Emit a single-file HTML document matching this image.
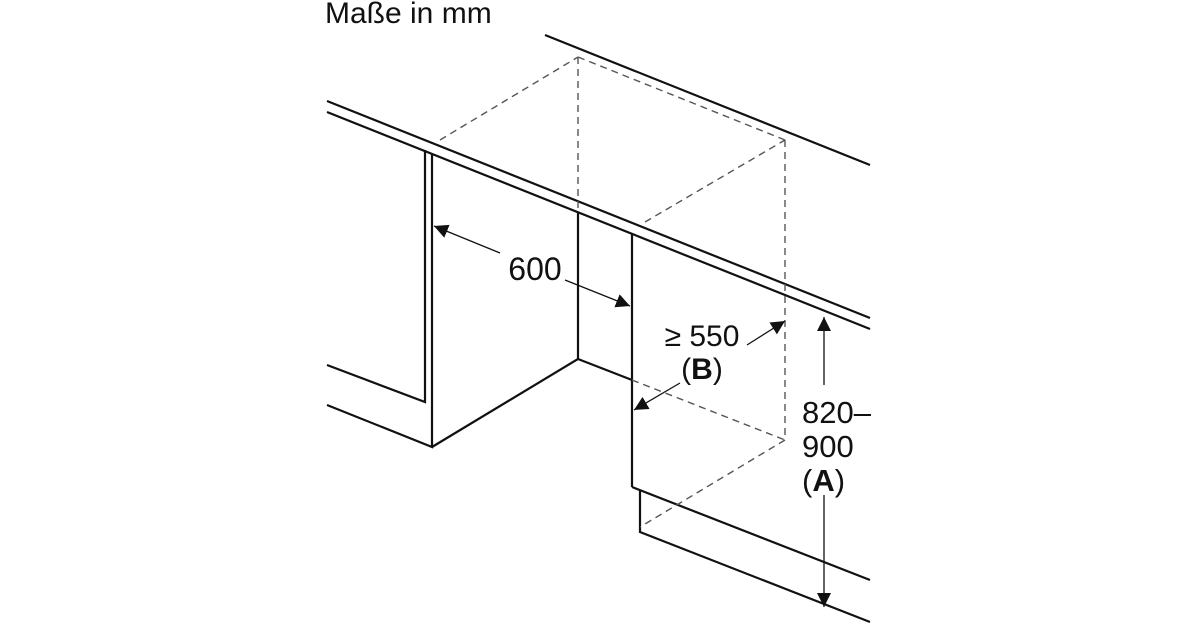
<!DOCTYPE html>
<html><head><meta charset="utf-8"><style>
html,body{margin:0;padding:0;background:#fff;}
svg{display:block;}
text{font-family:"Liberation Sans",sans-serif;fill:#111;}
</style></head><body>
<svg width="1200" height="630" viewBox="0 0 1200 630" xmlns="http://www.w3.org/2000/svg">
<defs>
<marker id="ah" viewBox="0 0 10 10" refX="10" refY="5" markerWidth="14" markerHeight="14" markerUnits="userSpaceOnUse" orient="auto">
<path d="M0,0 L10,5 L0,10 z" fill="#111"/>
</marker>
</defs>
<text x="325" y="23" font-size="30">Maße in mm</text>
<g stroke="#111" stroke-width="2.2" fill="none" stroke-linejoin="miter">
<line x1="545" y1="35" x2="870" y2="165"/>
<line x1="327" y1="101" x2="870" y2="318"/>
<line x1="327" y1="112" x2="870" y2="329"/>
<polyline points="327,365 425,402 425,150"/>
<polyline points="327,405 432,447 432,154"/>
<polyline points="432,447 578,359 578,213"/>
<polyline points="578,359 632,380"/>
<line x1="632" y1="233" x2="632" y2="487"/>
<line x1="632" y1="487" x2="870" y2="580"/>
<polyline points="640,490 640,532 870,622"/>
</g>
<g stroke="#555" stroke-width="1.4" fill="none" stroke-dasharray="7,5">
<line x1="440" y1="140" x2="578" y2="57"/>
<line x1="578" y1="57" x2="578" y2="213"/>
<line x1="578" y1="57" x2="785" y2="140"/>
<line x1="785" y1="140" x2="785" y2="440"/>
<line x1="645" y1="222" x2="785" y2="140"/>
<line x1="632" y1="380" x2="785" y2="440"/>
<line x1="785" y1="440" x2="640" y2="527"/>
</g>
<g stroke="#111" stroke-width="1.3" fill="none">
<line x1="500" y1="253" x2="434" y2="226" marker-end="url(#ah)"/>
<line x1="565" y1="280" x2="630" y2="306" marker-end="url(#ah)"/>
<line x1="747" y1="345" x2="785" y2="321" marker-end="url(#ah)"/>
<line x1="680" y1="383" x2="634" y2="410" marker-end="url(#ah)"/>
<line x1="824" y1="385" x2="824" y2="317" marker-end="url(#ah)"/>
<line x1="824" y1="495" x2="824" y2="607" marker-end="url(#ah)"/>
</g>
<text x="535" y="280" font-size="32" text-anchor="middle">600</text>
<text x="702" y="346" font-size="30" text-anchor="middle">≥ 550</text>
<text x="702" y="379" font-size="30" text-anchor="middle">(<tspan font-weight="bold">B</tspan>)</text>
<text x="802" y="423" font-size="31">820–</text>
<text x="802" y="457" font-size="31">900</text>
<text x="802" y="491" font-size="31">(<tspan font-weight="bold">A</tspan>)</text>
</svg>
</body></html>
